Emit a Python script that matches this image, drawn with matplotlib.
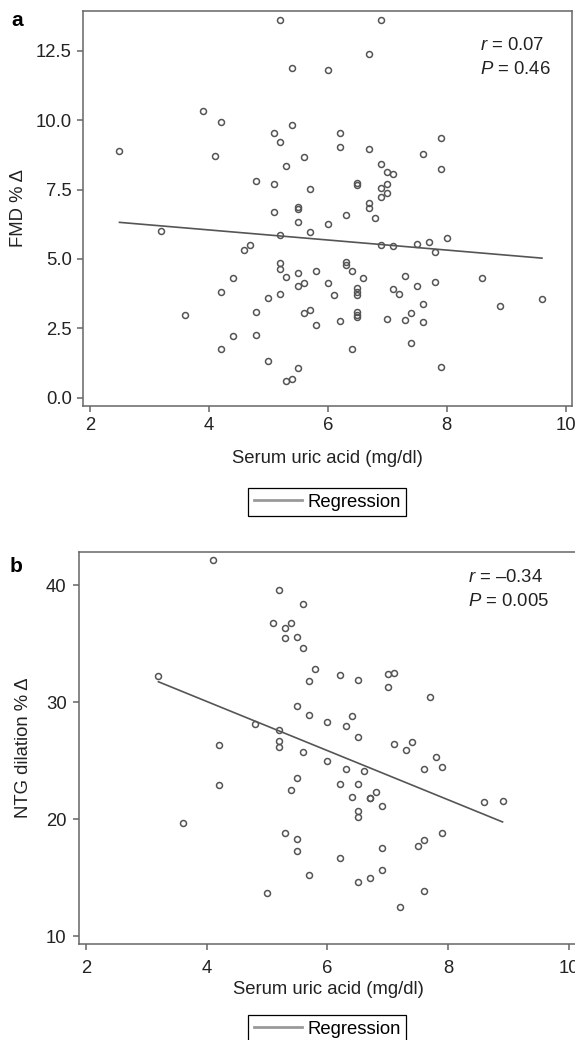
import matplotlib
matplotlib.use("Agg")
import matplotlib.pyplot as plt
from matplotlib.lines import Line2D

plt.rcParams['font.family'] = ['Liberation Sans', 'DejaVu Sans']
plt.rcParams['mathtext.fontset'] = 'custom'
plt.rcParams['mathtext.rm'] = 'Liberation Sans'
plt.rcParams['mathtext.it'] = 'Liberation Sans:italic'

# panel a: serum uric acid vs FMD % change
ua_a = [2.5, 3.9, 4.2, 4.1, 5.2, 5.4, 5.4, 5.1, 5.2, 5.3, 4.8, 5.1, 5.1, 6.9, 6.7,
        6.0, 6.2, 6.2, 6.7, 7.6, 7.9, 7.9, 5.6, 6.9, 7.0, 7.1, 7.0, 6.9, 7.0, 6.9,
        6.5, 6.5, 5.7, 6.7, 6.7, 5.5, 5.5, 6.3, 6.8, 3.2, 5.2, 4.6, 4.7, 5.2, 5.2,
        5.3, 5.5, 5.5, 4.4, 4.2, 5.2, 5.0, 3.6, 4.8, 4.8, 4.4, 4.2, 5.0, 5.3, 5.4,
        5.5, 5.5, 5.7, 6.0, 6.9, 7.1, 7.5, 7.7, 8.0, 7.8, 5.6, 5.8, 6.0, 6.1, 6.3,
        6.3, 6.4, 6.6, 6.5, 6.5, 6.5, 6.5, 6.5, 6.5, 5.6, 5.7, 5.8, 6.2, 6.4, 7.0,
        7.1, 7.2, 7.3, 7.5, 7.3, 7.4, 7.6, 7.6, 7.4, 7.8, 7.9, 8.6, 8.9, 9.6]
fmd = [8.9, 10.35, 9.95, 8.7, 13.6, 11.9, 9.83, 9.53, 9.2, 8.35, 7.8, 7.7, 6.7, 13.6, 12.4,
       11.8, 9.53, 9.05, 8.95, 8.77, 9.36, 8.24, 8.67, 8.44, 8.15, 8.08, 7.71, 7.55, 7.39, 7.22,
       7.75, 7.68, 7.51, 7.03, 6.83, 6.87, 6.8, 6.58, 6.46, 6.0, 5.86, 5.32, 5.52, 4.87, 4.63,
       4.36, 4.51, 4.03, 4.33, 3.81, 3.73, 3.59, 2.97, 3.08, 2.27, 2.24, 1.76, 1.31, 0.6, 0.67,
       1.08, 6.32, 5.96, 6.26, 5.52, 5.48, 5.55, 5.6, 5.75, 5.26, 4.12, 4.56, 4.15, 3.7, 4.9,
       4.78, 4.56, 4.3, 3.94, 3.82, 3.7, 3.1, 2.98, 2.92, 3.04, 3.16, 2.63, 2.78, 1.76, 2.83,
       3.92, 3.74, 4.4, 4.04, 2.8, 3.04, 3.38, 2.74, 1.98, 4.18, 1.1, 4.33, 3.31, 3.56]
reg_a_x = [2.5, 9.6]
reg_a_y = [6.32, 5.03]

# panel b: serum uric acid vs NTG dilation % change
ua_b = [4.1, 5.2, 5.1, 5.4, 5.3, 5.3, 5.5, 3.2, 5.5, 4.8, 5.2, 5.2, 5.2, 4.2, 5.6,
        5.6, 5.8, 5.7, 6.2, 6.5, 7.0, 7.1, 7.0, 7.7, 5.7, 6.0, 6.4, 6.3, 6.5, 7.1,
        7.3, 7.4, 7.8, 5.6, 6.0, 4.2, 3.6, 5.5, 5.4, 5.3, 5.5, 5.5, 5.0, 7.9, 7.6,
        6.3, 6.6, 6.2, 6.5, 6.4, 6.7, 6.7, 6.8, 6.9, 6.5, 6.5, 8.6, 8.9, 6.2, 6.9,
        7.5, 7.6, 7.9, 5.7, 6.5, 6.7, 6.9, 7.6, 7.2]
ntg = [42.1, 39.55, 36.8, 36.8, 36.3, 35.5, 35.6, 32.2, 29.7, 28.1, 27.6, 26.7, 26.2, 26.35, 38.4,
       34.6, 32.85, 31.8, 32.3, 31.9, 32.4, 32.5, 31.3, 30.4, 28.9, 28.3, 28.8, 27.95, 27.0, 26.4,
       25.9, 26.6, 25.3, 25.75, 25.0, 22.9, 19.7, 23.5, 22.5, 18.8, 18.3, 17.3, 13.7, 24.5, 24.25,
       24.25, 24.1, 23.05, 23.05, 21.9, 21.8, 21.85, 22.3, 21.1, 20.7, 20.15, 21.5, 21.6, 16.7, 17.55,
       17.7, 18.2, 18.8, 15.2, 14.6, 15.0, 15.7, 13.85, 12.5]
reg_b_x = [3.2, 8.9]
reg_b_y = [31.74, 19.77]

fig = plt.figure(figsize=(5.75, 10.4), dpi=100)
W, H = 575.0, 1040.0

def px_axes(l, t, r, b):
    return fig.add_axes([l / W, 1 - b / H, (r - l) / W, (b - t) / H])

ax1 = px_axes(83, 11, 571.7, 405.7)
ax2 = px_axes(79, 551.7, 578, 944.3)

spine_col = '#666666'
pt_col = '#555555'
fs = 13.3

for ax in (ax1, ax2):
    for s in ax.spines.values():
        s.set_color(spine_col)
        s.set_linewidth(1.1)
    ax.tick_params(colors=spine_col, labelcolor='#222222', labelsize=fs, length=4, width=1.1)
    ax.set_xticks([2, 4, 6, 8, 10])

ax1.plot(ua_a, fmd, 'o', ms=4.3, mfc='none', mec=pt_col, mew=1.1)
ax1.plot(reg_a_x, reg_a_y, color='#555555', lw=1.2)
ax1.set_xlim(1.887, 10.1)
ax1.set_ylim(-0.29, 13.94)
ax1.set_yticks([0, 2.5, 5, 7.5, 10, 12.5])
ax1.set_yticklabels(['0.0', '2.5', '5.0', '7.5', '10.0', '12.5'])
ax1.tick_params(axis='x', pad=4)
ax1.tick_params(axis='y', pad=4)
ax1.set_xlabel('Serum uric acid (mg/dl)', fontsize=fs, color='#222222', va='top')
ax1.xaxis.set_label_coords(0.5, -0.112)
ax1.set_ylabel('FMD % Δ', fontsize=fs, color='#222222')
ax1.yaxis.set_label_coords(-0.115, 0.5)

ax2.plot(ua_b, ntg, 'o', ms=4.3, mfc='none', mec=pt_col, mew=1.1)
ax2.plot(reg_b_x, reg_b_y, color='#555555', lw=1.2)
ax2.set_xlim(1.884, 10.15)
ax2.set_ylim(9.32, 42.85)
ax2.set_yticks([10, 20, 30, 40])
ax2.tick_params(axis='x', pad=7)
ax2.tick_params(axis='y', pad=5)
ax2.set_xlabel('Serum uric acid (mg/dl)', fontsize=fs, color='#222222', va='top')
ax2.xaxis.set_label_coords(0.5, -0.093)
ax2.set_ylabel('NTG dilation % Δ', fontsize=fs, color='#222222')
ax2.yaxis.set_label_coords(-0.094, 0.5)

# stats text
fig.text(480 / W, 1 - 45 / H, '$r$ = 0.07', fontsize=fs, va='center', color='#222222')
fig.text(480 / W, 1 - 70 / H, '$P$ = 0.46', fontsize=fs, va='center', color='#222222')
fig.text(468 / W, 1 - 578 / H, '$r$ = \u20130.34', fontsize=fs, va='center', color='#222222')
fig.text(468 / W, 1 - 602 / H, '$P$ = 0.005', fontsize=fs, va='center', color='#222222')

# panel letters
fig.text(17 / W, 1 - 21 / H, 'a', fontsize=15, fontweight='bold', ha='center', va='center')
fig.text(16 / W, 1 - 567 / H, 'b', fontsize=15, fontweight='bold', ha='center', va='center')

# legends
h = [Line2D([], [], color='#999999', lw=2)]
for ax, cy in ((ax1, 502), (ax2, 1029)):
    leg = ax.legend(handles=h, labels=['Regression'], loc='center',
                    bbox_to_anchor=(327 / W, 1 - cy / H), bbox_transform=fig.transFigure,
                    fancybox=False, edgecolor='black', framealpha=1, fontsize=fs,
                    handlelength=2.6, handletextpad=0.3, borderpad=0.3, borderaxespad=0)
    leg.get_frame().set_linewidth(0.9)

fig.savefig('out.png', dpi=100)
